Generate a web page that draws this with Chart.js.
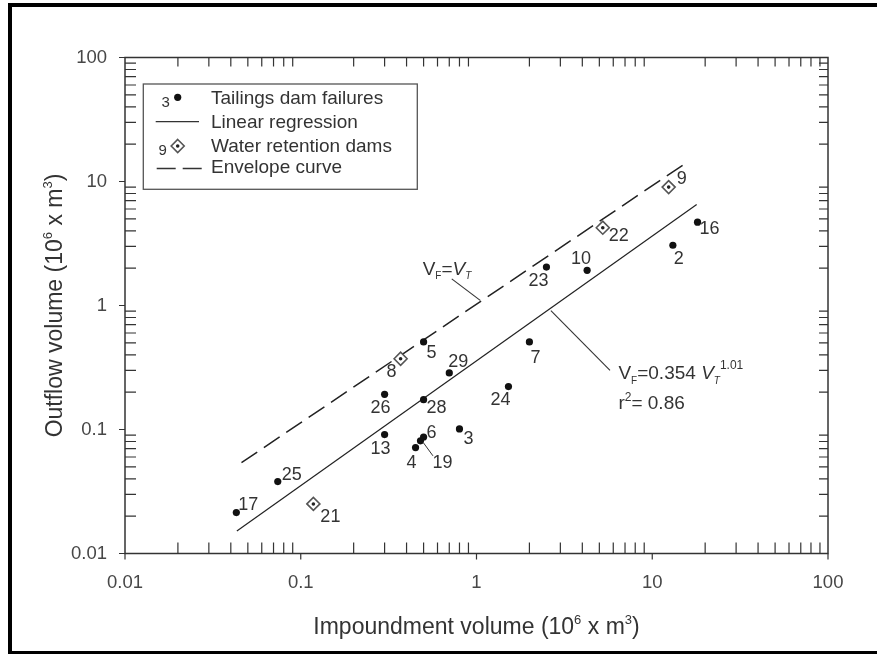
<!DOCTYPE html>
<html>
<head>
<meta charset="utf-8">
<title>Outflow volume vs impoundment volume</title>
<script src="https://cdn.jsdelivr.net/npm/chart.js@4.4.1/dist/chart.umd.min.js"></script>
<style>
  html, body { margin: 0; padding: 0; background: #fff; }
  #wrap { position: relative; width: 877px; height: 654px; overflow: hidden; }
  #chart { position: absolute; left: 0; top: 0; }
  #frame {
    position: absolute; left: 8px; top: 3px; right: -10px; bottom: 0;
    border-top: 4px solid #000; border-left: 4px solid #000; border-bottom: 3px solid #000;
    pointer-events: none;
  }
</style>
</head>
<body>
<div id="wrap">
  <canvas id="chart" width="877" height="654"></canvas>
  <div id="frame"></div>
</div>
<script>
// tailings dam failures (case number, impoundment V_T, outflow V_F, both 10^6 m^3)
const tailNames    = ['17', '25', '13', '26', '5', '28', '29', '4', '19', '6', '3', '24', '7', '23', '10', '2', '16'];
const tailImpound  = [0.043, 0.074, 0.30, 0.30, 0.50, 0.50, 0.70, 0.45, 0.48, 0.50, 0.80, 1.52, 2.0, 2.5, 4.26, 13.1, 18.1];
const tailOutflow  = [0.0214, 0.038, 0.091, 0.192, 0.508, 0.174, 0.286, 0.0715, 0.081, 0.087, 0.101, 0.222, 0.508, 2.04, 1.92, 3.06, 4.70];

// water retention dams
const waterNames   = ['21', '8', '22', '9'];
const waterImpound = [0.118, 0.37, 5.23, 12.4];
const waterOutflow = [0.0251, 0.372, 4.24, 9.01];

// regression line ends and envelope curve ends
const regImpound = [0.0433, 17.9];
const regOutflow = [0.0152, 6.53];
const envImpound = [0.046, 15.9];
const envOutflow = [0.054, 14.4];

const tickValues = [0.01, 0.1, 1, 10, 100];
const tickLabels = ['0.01', '0.1', '1', '10', '100'];

const legendLabels = ['Tailings dam failures', 'Linear regression', 'Water retention dams', 'Envelope curve'];

// label placement (pixels from the point)
const tailLabelOffset = [[12, -7], [14, -7], [-4, 14], [-4, 14], [8, 11], [13, 8], [9, -11], [-4, 15], [22, 22],
                         [8, -4], [9, 10], [-8, 13], [6, 16], [-8, 14], [-6, -11], [6, 14], [12, 7]];
const waterLabelOffset = [[17, 13], [-9, 13], [16, 8], [13, -8]];

// annotation anchors in data units
const identityNote = { at: [0.494, 1.777], leader: [[0.723, 1.64], [1.05, 1.10]] };
const regressionNote = { at: [6.42, 0.255], second: 0.146, leader: [[2.65, 0.909], [5.75, 0.30]] };

const FAM = '"Liberation Sans", Arial, Helvetica, sans-serif';
const TEXT = '#333';

function toXY(arrX, arrY) {
    return arrX.map((v, i) => ({ x: v, y: arrY[i] }));
}

// draws a run of text pieces: [text, size, rise, italic]
function richText(ctx, parts, x, y, align) {
    let w = 0;
    parts.forEach(p => {
        ctx.font = (p[3] ? 'italic ' : '') + p[1] + 'px ' + FAM;
        w += ctx.measureText(p[0]).width;
    });
    let cx = align === 'center' ? x - w / 2 : x;
    ctx.textAlign = 'left';
    ctx.textBaseline = 'alphabetic';
    parts.forEach(p => {
        ctx.font = (p[3] ? 'italic ' : '') + p[1] + 'px ' + FAM;
        ctx.fillText(p[0], cx, y - p[2]);
        cx += ctx.measureText(p[0]).width;
    });
}

function drawDiamond(ctx, x, y, r) {
    ctx.beginPath();
    ctx.moveTo(x, y - r);
    ctx.lineTo(x + r, y);
    ctx.lineTo(x, y + r);
    ctx.lineTo(x - r, y);
    ctx.closePath();
    ctx.fillStyle = '#fff';
    ctx.fill();
    ctx.strokeStyle = '#555';
    ctx.lineWidth = 1.6;
    ctx.stroke();
    ctx.beginPath();
    ctx.arc(x, y, 1.8, 0, Math.PI * 2);
    ctx.fillStyle = '#222';
    ctx.fill();
}

const axesBox = {
    id: 'axesBox',
    beforeDatasetsDraw(chart) {
        const { ctx, chartArea: a, scales: { x, y } } = chart;
        ctx.save();
        ctx.strokeStyle = '#333';
        ctx.lineWidth = 1.5;
        ctx.strokeRect(a.left, a.top, a.right - a.left, a.bottom - a.top);
        ctx.lineWidth = 1.2;
        ctx.beginPath();
        tickValues.forEach(v => {
            const px = x.getPixelForValue(v), py = y.getPixelForValue(v);
            ctx.moveTo(px, a.bottom); ctx.lineTo(px, a.bottom + 6);
            ctx.moveTo(a.left, py); ctx.lineTo(a.left - 6, py);
        });
        for (let i = 0; i < tickValues.length - 1; i++) {
            for (let m = 2; m <= 9; m++) {
                const v = tickValues[i] * m;
                const px = x.getPixelForValue(v), py = y.getPixelForValue(v);
                ctx.moveTo(px, a.bottom); ctx.lineTo(px, a.bottom - 11);
                ctx.moveTo(px, a.top); ctx.lineTo(px, a.top + 9);
                ctx.moveTo(a.left, py); ctx.lineTo(a.left + 11, py);
                ctx.moveTo(a.right, py); ctx.lineTo(a.right - 9, py);
            }
        }
        ctx.stroke();
        ctx.restore();
    }
};

const decorations = {
    id: 'decorations',
    afterDatasetsDraw(chart) {
        const { ctx, chartArea: a, scales: { x, y } } = chart;
        ctx.save();

        // point labels
        ctx.fillStyle = TEXT;
        ctx.font = '18px ' + FAM;
        ctx.textAlign = 'center';
        ctx.textBaseline = 'middle';
        const tailMeta = chart.getDatasetMeta(0).data;
        tailNames.forEach((n, i) => {
            const p = tailMeta[i];
            ctx.fillText(n, p.x + tailLabelOffset[i][0], p.y + tailLabelOffset[i][1]);
            if (n === '19') {
                ctx.strokeStyle = '#333';
                ctx.lineWidth = 1;
                ctx.beginPath();
                ctx.moveTo(p.x + 3, p.y + 2);
                ctx.lineTo(p.x + 12.5, p.y + 15);
                ctx.stroke();
            }
        });
        const waterMeta = chart.getDatasetMeta(1).data;
        waterNames.forEach((n, i) => {
            const p = waterMeta[i];
            ctx.fillText(n, p.x + waterLabelOffset[i][0], p.y + waterLabelOffset[i][1]);
        });

        // annotation leaders
        ctx.strokeStyle = '#333';
        ctx.lineWidth = 1.1;
        [identityNote, regressionNote].forEach(note => {
            ctx.beginPath();
            ctx.moveTo(x.getPixelForValue(note.leader[0][0]), y.getPixelForValue(note.leader[0][1]));
            ctx.lineTo(x.getPixelForValue(note.leader[1][0]), y.getPixelForValue(note.leader[1][1]));
            ctx.stroke();
        });

        // annotation text
        ctx.fillStyle = TEXT;
        richText(ctx, [['V', 19, 0], ['F', 10, -4], ['=', 19, 0], ['V', 19, 0, true], ['T', 10, -4, true]],
            x.getPixelForValue(identityNote.at[0]), y.getPixelForValue(identityNote.at[1]), 'left');
        const rx = x.getPixelForValue(regressionNote.at[0]);
        richText(ctx, [['V', 19, 0], ['F', 10, -5], ['=0.354 ', 19, 0], ['V', 19, 0, true], ['T', 10, -5, true], ['1.01', 12, 10]],
            rx, y.getPixelForValue(regressionNote.at[1]), 'left');
        richText(ctx, [['r', 19, 0], ['2', 12, 8], ['= 0.86', 19, 0]],
            rx, y.getPixelForValue(regressionNote.second), 'left');

        // legend
        const lx = a.left + 18.3, ly = a.top + 26.5;
        ctx.fillStyle = '#fff';
        ctx.fillRect(lx, ly, 274, 105.3);
        ctx.strokeStyle = '#555';
        ctx.lineWidth = 1.3;
        ctx.strokeRect(lx, ly, 274, 105.3);
        const sx = lx + 34.4, tx = lx + 67.7;
        const rows = [ly + 13.3, ly + 37.7, ly + 62, ly + 83];

        ctx.fillStyle = '#111';
        ctx.beginPath();
        ctx.arc(sx, rows[0], 3.6, 0, Math.PI * 2);
        ctx.fill();
        ctx.strokeStyle = '#333';
        ctx.lineWidth = 1.2;
        ctx.beginPath();
        ctx.moveTo(lx + 12.4, rows[1]); ctx.lineTo(lx + 55.7, rows[1]);
        ctx.stroke();
        drawDiamond(ctx, sx, rows[2], 6.5);
        ctx.strokeStyle = '#333';
        ctx.lineWidth = 1.5;
        ctx.setLineDash([19, 7]);
        ctx.beginPath();
        ctx.moveTo(lx + 13.4, rows[3] + 1.5); ctx.lineTo(lx + 58.4, rows[3] + 1.5);
        ctx.stroke();
        ctx.setLineDash([]);

        ctx.fillStyle = TEXT;
        ctx.font = '15px ' + FAM;
        ctx.textAlign = 'center';
        ctx.textBaseline = 'middle';
        ctx.fillText(tailNames[10], sx - 12, rows[0] + 6);
        ctx.fillText(waterNames[3], sx - 15, rows[2] + 5);

        ctx.font = '19px ' + FAM;
        ctx.textAlign = 'left';
        legendLabels.forEach((t, i) => ctx.fillText(t, tx, rows[i] + 1));

        ctx.restore();
    },
    afterDraw(chart) {
        const { ctx, chartArea: a } = chart;
        ctx.save();
        ctx.fillStyle = TEXT;
        const title = (label) => [[label + ' (10', 23, 0], ['6', 13, 10], [' x m', 23, 0], ['3', 13, 10], [')', 23, 0]];
        richText(ctx, title('Impoundment volume'), (a.left + a.right) / 2, 634, 'center');
        ctx.translate(61.7, (a.top + a.bottom) / 2);
        ctx.rotate(-Math.PI / 2);
        richText(ctx, title('Outflow volume'), 0, 0, 'center');
        ctx.restore();
    }
};

Chart.defaults.font.family = FAM;

const logAxis = (extra) => Object.assign({
    type: 'logarithmic',
    min: 0.01,
    max: 100,
    afterBuildTicks: s => { s.ticks = tickValues.map(v => ({ value: v })); },
    grid: { display: false, drawTicks: false },
    border: { display: false },
    ticks: {
        callback: (v, i) => tickLabels[i],
        color: '#474747',
        font: { size: 18.5 },
        padding: 18,
        autoSkip: false,
        maxRotation: 0
    }
}, extra);

new Chart(document.getElementById('chart'), {
    type: 'scatter',
    data: {
        datasets: [
            {
                label: legendLabels[0],
                data: toXY(tailImpound, tailOutflow),
                pointRadius: 3.6,
                pointBackgroundColor: '#111',
                pointBorderWidth: 0,
                order: 1
            },
            {
                label: legendLabels[2],
                data: toXY(waterImpound, waterOutflow),
                pointStyle: 'rectRot',
                pointRadius: 6.5,
                pointBackgroundColor: '#fff',
                pointBorderColor: '#555',
                pointBorderWidth: 1.6,
                order: 1
            },
            {
                label: 'centre',
                data: toXY(waterImpound, waterOutflow),
                pointRadius: 1.8,
                pointBackgroundColor: '#222',
                pointBorderWidth: 0,
                order: 0
            },
            {
                label: legendLabels[1],
                data: toXY(regImpound, regOutflow),
                showLine: true,
                pointRadius: 0,
                borderColor: '#222',
                borderWidth: 1.2,
                order: 3
            },
            {
                label: legendLabels[3],
                data: toXY(envImpound, envOutflow),
                showLine: true,
                pointRadius: 0,
                borderColor: '#222',
                borderWidth: 1.5,
                borderDash: [19, 8],
                order: 3
            }
        ]
    },
    options: {
        responsive: false,
        animation: false,
        events: [],
        layout: { padding: { left: 0, top: 57.5, right: 49, bottom: 0 } },
        plugins: { legend: { display: false }, tooltip: { enabled: false } },
        scales: {
            x: logAxis({ afterFit: s => { s.height = 100.5; } }),
            y: logAxis({ afterFit: s => { s.width = 125; } })
        }
    },
    plugins: [axesBox, decorations]
});
</script>
</body>
</html>
